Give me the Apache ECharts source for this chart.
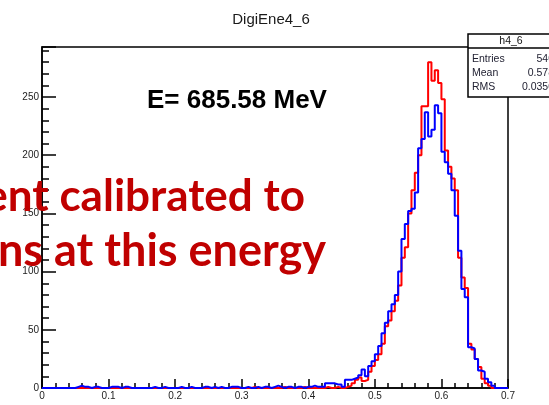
<!DOCTYPE html>
<html>
<head>
<meta charset="utf-8">
<script src="https://cdn.jsdelivr.net/npm/echarts@6/dist/echarts.min.js"></script>
<style>
html,body{margin:0;padding:0;background:#fff;}
#c{width:549px;height:405px;}
</style>
</head>
<body>
<div id="c"></div>
<script>
// ---- data ----
var histTitle = 'DigiEne4_6';
var statsName = 'h4_6';
var statsLabels = ['Entries', 'Mean', 'RMS'];
var statsValues = ['540', '0.578', '0.0350'];
var energyText = 'E= 685.58 MeV';
var overlayLines = ['ent calibrated to', 'ns at this energy'];

var xMin = 0, xMax = 0.7, binWidth = 0.005;
var yMax = 293;
var xTicks = [0, 0.1, 0.2, 0.3, 0.4, 0.5, 0.6, 0.7];
var yTicks = [0, 50, 100, 150, 200, 250];

var blueCounts = [
  0,0,0,0,0,0,0,0,0,0,
  1,2,1,1,0,1,1,0,0,0,
  1,1,1,0,1,1,0,0,0,0,
  0,0,0,1,0,0,1,0,0,0,
  0,1,0,0,1,0,0,0,1,1,
  0,1,0,1,0,0,1,1,1,0,
  0,1,0,0,1,0,1,1,0,1,
  2,1,0,1,1,0,1,1,0,1,
  1,2,1,1,1,4,4,4,3,3,
  1,7,7,8,9,11,16,10,19,23,
  29,36,47,56,66,72,80,100,128,141,
  152,154,168,206,214,237,216,222,243,236,
  203,194,184,170,148,118,85,78,35,34,
  25,15,14,8,5,2,0,0,0,0
];
var redCounts = [
  0,0,0,0,0,0,0,0,0,0,
  0,0,0,0,0,0,0,0,0,0,
  0,0,0,0,0,0,0,0,0,0,
  0,0,0,0,0,0,0,0,0,0,
  0,0,0,0,0,0,0,0,0,0,
  0,0,0,0,0,0,0,0,0,0,
  0,0,0,1,0,0,0,0,0,0,
  0,0,1,0,0,0,0,0,1,0,
  0,0,0,0,0,1,0,0,1,0,
  0,1,2,4,7,9,6,7,14,19,
  24,29,38,53,58,66,75,88,112,121,
  150,170,185,200,242,242,280,264,273,262,
  248,204,190,180,170,112,95,86,38,33,
  25,18,8,4,2,0,0,0,0,0
];

function stepData(counts) {
  var pts = counts.map(function (c, k) { return [xMin + k * binWidth, c]; });
  pts.push([xMax, counts[counts.length - 1]]);
  return pts;
}

var chart = echarts.init(document.getElementById('c'), null, {renderer: 'canvas'});
var labelFont = {fontFamily: 'Liberation Sans', fontSize: 10, color: '#222'};
var statFont = {fontFamily: 'Liberation Sans', fontSize: 10.5, fill: '#223', verticalAlign: 'middle'};

var option = {
  animation: false,
  backgroundColor: '#fff',
  grid: {left: 42, right: 41, top: 47, bottom: 17, show: true, borderColor: '#000', borderWidth: 1.5, backgroundColor: 'transparent'},
  xAxis: [{
    type: 'value', min: xMin, max: xMax, interval: 0.1,
    axisLine: {show: true, onZero: false, lineStyle: {color: '#000', width: 1.5}},
    axisTick: {show: true, inside: true, length: 9, lineStyle: {color: '#000', width: 1.5}},
    axisLabel: Object.assign({margin: 3, formatter: function (v) { return xTicks.indexOf(+v.toFixed(1)) >= 0 ? String(+v.toFixed(1)) : ''; }}, labelFont),
    splitLine: {show: false}
  }, {
    type: 'value', min: xMin, max: xMax, interval: 0.02, position: 'bottom',
    axisLine: {show: false, onZero: false},
    axisTick: {show: true, inside: true, length: 5, lineStyle: {color: '#000', width: 1.5}},
    axisLabel: {show: false}, splitLine: {show: false}
  }],
  yAxis: [{
    type: 'value', min: 0, max: yMax, interval: 50, position: 'left',
    axisLine: {show: true, onZero: false, lineStyle: {color: '#000', width: 1.5}},
    axisTick: {show: true, inside: true, length: 14, lineStyle: {color: '#000', width: 1.5}},
    axisLabel: Object.assign({margin: 3, formatter: function (v) { return yTicks.indexOf(v) >= 0 ? String(v) : ''; }}, labelFont),
    splitLine: {show: false}
  }, {
    type: 'value', min: 0, max: yMax, interval: 10, position: 'left',
    axisLine: {show: false, onZero: false},
    axisTick: {show: true, inside: true, length: 7, lineStyle: {color: '#000', width: 1.5}},
    axisLabel: {show: false}, splitLine: {show: false}
  }],
  series: [{
    type: 'line', name: 'red', step: 'end', showSymbol: false, symbol: 'none',
    data: stepData(redCounts), xAxisIndex: 0, yAxisIndex: 0,
    lineStyle: {color: '#ff0000', width: 2}, z: 3
  }, {
    type: 'line', name: 'blue', step: 'end', showSymbol: false, symbol: 'none',
    data: stepData(blueCounts), xAxisIndex: 0, yAxisIndex: 0,
    lineStyle: {color: '#0000ff', width: 2}, z: 4
  }],
  graphic: [
    {type: 'text', x: 271, y: 20, z: 10,
     style: {text: histTitle, fontFamily: 'Liberation Sans', fontSize: 15, fill: '#1a1a1a', align: 'center', verticalAlign: 'middle'}},
    {type: 'rect', x: 468, y: 34, z: 10, shape: {width: 92, height: 63},
     style: {fill: '#fff', stroke: '#000', lineWidth: 1.5}},
    {type: 'line', z: 11, shape: {x1: 468, y1: 48, x2: 560, y2: 48}, style: {stroke: '#000', lineWidth: 1.5}},
    {type: 'text', x: 511, y: 41, z: 12,
     style: {text: statsName, fontFamily: 'Liberation Sans', fontSize: 10.5, fill: '#111', align: 'center', verticalAlign: 'middle'}},
    {type: 'text', x: 472, y: 59, z: 12, style: Object.assign({text: statsLabels[0]}, statFont)},
    {type: 'text', x: 472, y: 73, z: 12, style: Object.assign({text: statsLabels[1]}, statFont)},
    {type: 'text', x: 472, y: 87, z: 12, style: Object.assign({text: statsLabels[2]}, statFont)},
    {type: 'text', x: 554, y: 59, z: 12, style: Object.assign({text: statsValues[0], align: 'right'}, statFont)},
    {type: 'text', x: 554, y: 73, z: 12, style: Object.assign({text: statsValues[1], align: 'right'}, statFont)},
    {type: 'text', x: 554, y: 87, z: 12, style: Object.assign({text: statsValues[2], align: 'right'}, statFont)},
    {type: 'text', x: 147, y: 101, z: 12,
     style: {text: energyText, fontFamily: 'Liberation Sans', fontWeight: 'bold', fontSize: 26, fill: '#000', verticalAlign: 'middle'}},
    {type: 'text', x: 305, y: 197, z: 20,
     style: {text: overlayLines[0], fontFamily: 'Lato', fontWeight: 'bold', fontSize: 44, fill: '#c00000', align: 'right', verticalAlign: 'middle'}},
    {type: 'text', x: 326, y: 251, z: 20,
     style: {text: overlayLines[1], fontFamily: 'Lato', fontWeight: 'bold', fontSize: 45, fill: '#c00000', align: 'right', verticalAlign: 'middle'}}
  ]
};
chart.setOption(option);
</script>
</body>
</html>
